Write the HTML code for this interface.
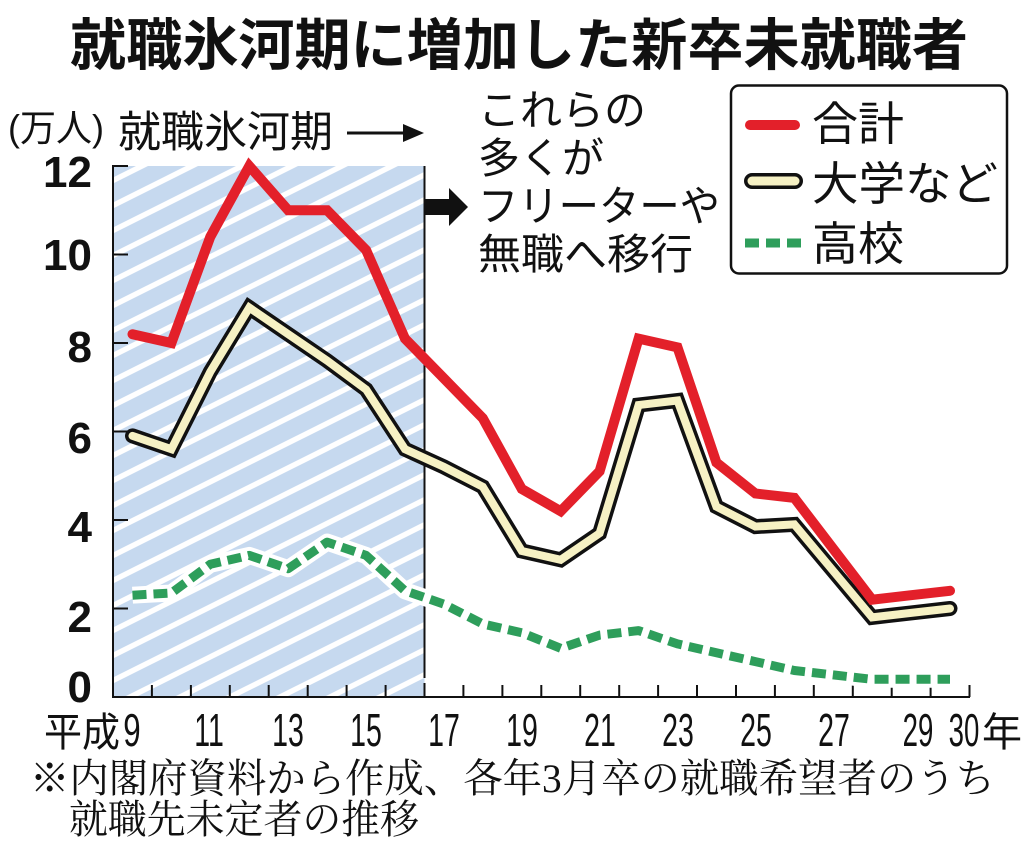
<!DOCTYPE html>
<html><head><meta charset="utf-8"><style>
html,body{margin:0;padding:0;background:#fff;}
svg{display:block;}
.jp{font-family:"Liberation Sans","Noto Sans CJK JP",sans-serif;}
.num{font-family:"Liberation Sans",sans-serif;}
.mincho{font-family:"Liberation Serif","Noto Serif CJK SC",serif;}
</style></head><body>
<svg width="1024" height="845" viewBox="0 0 1024 845" xmlns="http://www.w3.org/2000/svg">
<defs>
<pattern id="hatch" patternUnits="userSpaceOnUse" width="50" height="25" patternTransform="translate(0,12)">
<rect width="50" height="25" fill="#c6d9ef"/>
<g stroke="#fff" stroke-width="5.4">
<line x1="-10" y1="5" x2="60" y2="-30"/>
<line x1="-10" y1="30" x2="60" y2="-5"/>
<line x1="-10" y1="55" x2="60" y2="20"/>
</g>
</pattern>
</defs>
<rect width="1024" height="845" fill="#fff"/>

<!-- title -->
<text class="jp" x="70" y="65" font-size="56" font-weight="bold" textLength="898" lengthAdjust="spacingAndGlyphs" fill="#111">就職氷河期に増加した新卒未就職者</text>

<!-- shaded region -->
<rect x="113" y="166" width="311.5" height="531" fill="url(#hatch)"/>
<line x1="424.5" y1="166" x2="424.5" y2="678" stroke="#111" stroke-width="2"/>

<!-- unit + annotation -->
<text class="jp" x="8" y="141" font-size="37" fill="#111" textLength="96" lengthAdjust="spacingAndGlyphs">(万人)</text>
<text class="jp" x="118" y="147" font-size="43" fill="#111" textLength="215" lengthAdjust="spacingAndGlyphs">就職氷河期</text>
<line x1="347" y1="133" x2="408" y2="133" stroke="#111" stroke-width="3"/>
<polygon points="403,124 424,133 403,142" fill="#111"/>

<rect x="424" y="199" width="28" height="16" fill="#111"/>
<polygon points="449,188 468,207 449,226" fill="#111"/>

<g class="jp" font-size="42" fill="#111">
<text x="478" y="125">これらの</text>
<text x="478" y="173">多くが</text>
<text x="478" y="221" textLength="242" lengthAdjust="spacingAndGlyphs">フリーターや</text>
<text x="478" y="269" textLength="215" lengthAdjust="spacingAndGlyphs">無職へ移行</text>
</g>

<!-- legend -->
<rect x="731" y="85.5" width="276" height="188" rx="8" ry="8" fill="#fff" stroke="#111" stroke-width="2.5"/>
<line x1="750" y1="125" x2="795" y2="125" stroke="#e3202a" stroke-width="10" stroke-linecap="round"/>
<line x1="752" y1="181" x2="795" y2="181" stroke="#111" stroke-width="16" stroke-linecap="round"/>
<line x1="752" y1="181" x2="795" y2="181" stroke="#f6f1c4" stroke-width="9" stroke-linecap="round"/>
<line x1="745" y1="243" x2="801" y2="243" stroke="#2e9e5b" stroke-width="9" stroke-dasharray="14 7"/>
<g class="jp" font-size="46" fill="#111">
<text x="812" y="140">合計</text>
<text x="812" y="200" textLength="186" lengthAdjust="spacingAndGlyphs">大学など</text>
<text x="812" y="260">高校</text>
</g>

<!-- axes -->
<g stroke="#111" stroke-width="2">
<line x1="113" y1="165" x2="113" y2="698"/>
<line x1="112" y1="697" x2="970" y2="697"/>
<line x1="113" y1="166" x2="128" y2="166"/>
<line x1="113" y1="254.5" x2="128" y2="254.5"/>
<line x1="113" y1="343" x2="128" y2="343"/>
<line x1="113" y1="431.5" x2="128" y2="431.5"/>
<line x1="113" y1="520" x2="128" y2="520"/>
<line x1="113" y1="608.5" x2="128" y2="608.5"/>
<line x1="151.9" y1="685" x2="151.9" y2="697"/>
<line x1="190.9" y1="685" x2="190.9" y2="697"/>
<line x1="229.8" y1="685" x2="229.8" y2="697"/>
<line x1="268.7" y1="685" x2="268.7" y2="697"/>
<line x1="307.7" y1="685" x2="307.7" y2="697"/>
<line x1="346.6" y1="685" x2="346.6" y2="697"/>
<line x1="385.6" y1="685" x2="385.6" y2="697"/>
<line x1="424.5" y1="683" x2="424.5" y2="697"/>
<line x1="463.4" y1="685" x2="463.4" y2="697"/>
<line x1="502.4" y1="685" x2="502.4" y2="697"/>
<line x1="541.3" y1="685" x2="541.3" y2="697"/>
<line x1="580.2" y1="685" x2="580.2" y2="697"/>
<line x1="619.2" y1="685" x2="619.2" y2="697"/>
<line x1="658.1" y1="685" x2="658.1" y2="697"/>
<line x1="697.0" y1="685" x2="697.0" y2="697"/>
<line x1="736.0" y1="685" x2="736.0" y2="697"/>
<line x1="774.9" y1="685" x2="774.9" y2="697"/>
<line x1="813.8" y1="685" x2="813.8" y2="697"/>
<line x1="852.8" y1="685" x2="852.8" y2="697"/>
<line x1="891.7" y1="685" x2="891.7" y2="697"/>
<line x1="930.6" y1="685" x2="930.6" y2="697"/>
<line x1="969.5" y1="685" x2="969.5" y2="697"/>
</g>

<!-- y labels -->
<g class="num" font-size="44" font-weight="bold" fill="#111" text-anchor="end">
<text x="92" y="187">12</text>
<text x="92" y="270">10</text>
<text x="92" y="362">8</text>
<text x="92" y="453">6</text>
<text x="92" y="542">4</text>
<text x="92" y="632">2</text>
<text x="92" y="702">0</text>
</g>

<!-- x labels -->
<text class="jp" x="44" y="746" font-size="40" fill="#111" textLength="76" lengthAdjust="spacingAndGlyphs">平成</text>
<g class="num" font-size="46" fill="#111" text-anchor="middle">
<text transform="translate(132,746) scale(0.68,1)">9</text>
<text transform="translate(209,746) scale(0.62,1)">11</text>
<text transform="translate(288,746) scale(0.62,1)">13</text>
<text transform="translate(366,746) scale(0.62,1)">15</text>
<text transform="translate(444,746) scale(0.62,1)">17</text>
<text transform="translate(522,746) scale(0.62,1)">19</text>
<text transform="translate(600,746) scale(0.62,1)">21</text>
<text transform="translate(678,746) scale(0.62,1)">23</text>
<text transform="translate(756,746) scale(0.62,1)">25</text>
<text transform="translate(834,746) scale(0.62,1)">27</text>
<text transform="translate(918,746) scale(0.6,1)">29</text>
<text transform="translate(964,746) scale(0.6,1)">30</text>
</g>
<text class="jp" x="982" y="746" font-size="40" fill="#111">年</text>

<!-- green (高校) -->
<polyline fill="none" stroke="#fff" stroke-width="17" stroke-linejoin="round" points="132.5,595.2 171.4,593.0 210.3,564.3 249.3,555.4 288.2,568.7 327.1,542.1 366.1,555.4 405.0,590.8 443.9,604.1 482.8,624.0 521.8,632.8 560.7,648.3 599.6,635.1 638.6,630.6 677.5,643.9 716.4,652.8 755.4,661.6 794.3,670.5 833.2,674.9 872.1,679.3 911.1,679.3 950.0,679.3"/>
<polyline fill="none" stroke="#2e9e5b" stroke-width="9" stroke-dasharray="14 7" stroke-linejoin="round" points="132.5,595.2 171.4,593.0 210.3,564.3 249.3,555.4 288.2,568.7 327.1,542.1 366.1,555.4 405.0,590.8 443.9,604.1 482.8,624.0 521.8,632.8 560.7,648.3 599.6,635.1 638.6,630.6 677.5,643.9 716.4,652.8 755.4,661.6 794.3,670.5 833.2,674.9 872.1,679.3 911.1,679.3 950.0,679.3"/>

<!-- yellow (大学など) -->
<polyline fill="none" stroke="#111" stroke-width="15" stroke-linejoin="miter" stroke-miterlimit="4" stroke-linecap="round" points="132.5,435.9 171.4,449.2 210.3,371.8 249.3,307.6 288.2,334.2 327.1,360.7 366.1,389.5 405.0,449.2 443.9,466.9 482.8,486.8 521.8,551.0 560.7,559.8 599.6,533.3 638.6,405.0 677.5,400.5 716.4,506.7 755.4,526.6 794.3,524.4 833.2,570.9 872.1,617.4 911.1,612.9 950.0,608.5"/>
<polyline fill="none" stroke="#f6f1c4" stroke-width="8" stroke-linejoin="miter" stroke-miterlimit="4" stroke-linecap="round" points="132.5,435.9 171.4,449.2 210.3,371.8 249.3,307.6 288.2,334.2 327.1,360.7 366.1,389.5 405.0,449.2 443.9,466.9 482.8,486.8 521.8,551.0 560.7,559.8 599.6,533.3 638.6,405.0 677.5,400.5 716.4,506.7 755.4,526.6 794.3,524.4 833.2,570.9 872.1,617.4 911.1,612.9 950.0,608.5"/>

<!-- red (合計) -->
<polyline fill="none" stroke="#e3202a" stroke-width="10" stroke-linejoin="miter" stroke-miterlimit="4" stroke-linecap="round" points="132.5,334.2 171.4,343.0 210.3,236.8 249.3,166.0 288.2,210.3 327.1,210.3 366.1,250.1 405.0,338.6 443.9,378.4 482.8,418.2 521.8,489.0 560.7,511.2 599.6,471.3 638.6,338.6 677.5,347.4 716.4,462.5 755.4,493.5 794.3,497.9 833.2,548.8 872.1,599.7 911.1,595.2 950.0,590.8"/>

<!-- footnote -->
<text class="mincho" x="30" y="792" font-size="40" fill="#111" textLength="965" lengthAdjust="spacingAndGlyphs">※内閣府資料から作成、各年3月卒の就職希望者のうち</text>
<text class="mincho" x="69" y="833" font-size="40" fill="#111" textLength="350" lengthAdjust="spacingAndGlyphs">就職先未定者の推移</text>
</svg>
</body></html>
